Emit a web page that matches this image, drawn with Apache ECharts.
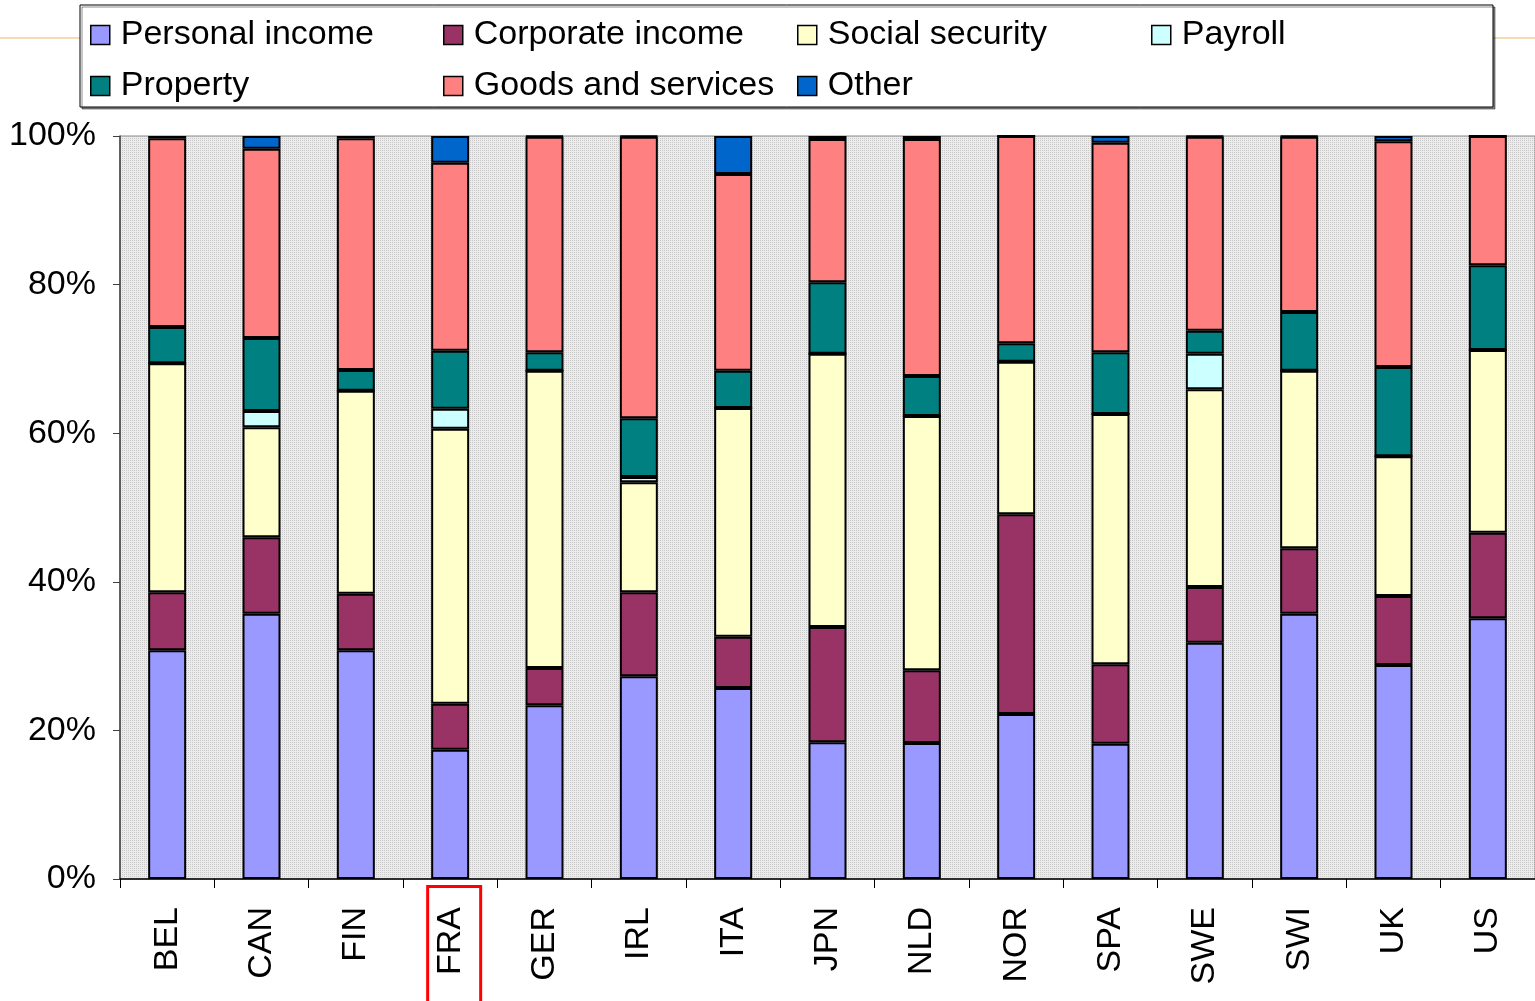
<!DOCTYPE html>
<html>
<head>
<meta charset="utf-8">
<script src="https://cdn.jsdelivr.net/npm/echarts@6/dist/echarts.min.js"></script>
<style>
html,body{margin:0;padding:0;background:#fff;}
#chart{width:1535px;height:1001px;}
</style>
</head>
<body>
<div id="chart"></div>
<script>
var countries = ['BEL','CAN','FIN','FRA','GER','IRL','ITA','JPN','NLD','NOR','SPA','SWE','SWI','UK','US'];
var yTicks = ['0%','20%','40%','60%','80%','100%'];
var personalIncome  = [30.8,35.7,30.8,17.4,23.4,27.3,25.7,18.4,18.3,22.2,18.2,31.8,35.7,28.8,35.1];
var corporateIncome = [7.8,10.3,7.6,6.2,5.0,11.3,6.9,15.5,9.8,26.9,10.7,7.5,8.8,9.3,11.5];
var socialSecurity  = [30.8,14.8,27.3,37.0,40.0,14.8,30.8,36.8,34.2,20.5,33.7,26.6,23.9,18.8,24.6];
var payroll         = [0,2.2,0,2.7,0,0.7,0,0,0,0,0,4.8,0,0,0];
var property        = [4.9,9.8,2.8,7.8,2.5,7.9,5.0,9.6,5.4,2.5,8.3,3.1,7.9,12.0,11.4];
var goodsServices   = [25.4,25.5,31.2,25.3,29.0,37.9,26.5,19.3,31.9,27.9,28.2,26.1,23.6,30.4,17.4];
var other           = [0.3,1.7,0.3,3.6,0.1,0.1,5.1,0.4,0.4,0,0.9,0.1,0.1,0.7,0];

var seriesDefs = [
  ['Personal income', personalIncome, '#9999ff'],
  ['Corporate income', corporateIncome, '#993366'],
  ['Social security', socialSecurity, '#ffffcc'],
  ['Payroll', payroll, '#ccffff'],
  ['Property', property, '#008080'],
  ['Goods and services', goodsServices, '#ff8080'],
  ['Other', other, '#0066cc']
];
var legendPos = [
  [90,18],[443,18],[797,18],[1151,18],
  [90,69],[443,69],[797,69]
];

var FONT = '"Liberation Sans", Arial, sans-serif';

var chart = echarts.init(document.getElementById('chart'), null, {renderer:'canvas'});

var series = seriesDefs.map(function(d){
  return {
    name: d[0], type: 'bar', stack: 'total', data: d[1],
    barWidth: 38,
    itemStyle: {color: d[2], borderColor: '#000', borderWidth: 2},
    emphasis: {disabled: true}
  };
});

var legends = seriesDefs.map(function(d, i){
  return {
    data: [d[0]], left: legendPos[i][0], top: legendPos[i][1], padding: 0,
    itemWidth: 19, itemHeight: 19, selectedMode: false,
    icon: 'rect',
    itemStyle: {borderColor: '#000', borderWidth: 1.5},
    textStyle: {fontSize: 34, fontFamily: FONT, color: '#000', padding: [0,0,0,6]}
  };
});

function baseGraphics(){
  return [
    {type: 'line', z: -10, shape: {x1: 0, y1: 38, x2: 1535, y2: 38},
     style: {stroke: '#e8b868', lineWidth: 1.2}},
    {type: 'rect', z: -5, shape: {x: 80, y: 5, width: 1413, height: 102},
     style: {fill: '#fff', stroke: '#000', lineWidth: 1, shadowColor: 'rgba(0,0,0,0.45)', shadowOffsetX: 2, shadowOffsetY: 2, shadowBlur: 0}}
  ];
}

// Pattern background for plot area
var pc = document.createElement('canvas'); pc.width = 4; pc.height = 4;
var pctx = pc.getContext('2d');
pctx.fillStyle = '#ececec'; pctx.fillRect(0,0,4,4);
pctx.fillStyle = '#c8c8c8';
pctx.fillRect(0,0,1,1); pctx.fillRect(2,2,1,1); pctx.fillRect(2,0,1,1); pctx.fillRect(0,2,1,1);

var option = {
  animation: false,
  backgroundColor: '#fff',
  legend: legends,
  grid: {left: 120, right: 0, top: 136, bottom: 122, show: true,
         backgroundColor: {image: pc, repeat: 'repeat'}, borderColor: '#8c8c8c', borderWidth: 1},
  xAxis: {
    type: 'category', data: countries,
    axisLine: {lineStyle: {color: '#000', width: 1.5}},
    axisTick: {show: true, length: 9, lineStyle: {color: '#000', width: 1}},
    axisLabel: {rotate: 90, fontSize: 34, fontFamily: FONT, color: '#000', margin: 28}
  },
  yAxis: {
    type: 'value', min: 0, max: 100, interval: 20,
    axisLine: {show: true, lineStyle: {color: '#404040', width: 1.5}},
    axisTick: {show: true, length: 7, lineStyle: {color: '#404040'}},
    splitLine: {show: false},
    axisLabel: {fontSize: 34, fontFamily: FONT, color: '#000', margin: 24, padding: [4,0,0,0],
      formatter: function(v){ return yTicks[Math.round(v/20)]; }}
  },
  series: series,
  graphic: baseGraphics()
};
chart.setOption(option);

// Red highlight box around FRA label
var fx = chart.convertToPixel({xAxisIndex: 0}, 'FRA');
var axisY = chart.convertToPixel({yAxisIndex: 0}, 0);
var g = baseGraphics();
g.push({type: 'rect', z: 100, shape: {x: fx - 22.5, y: axisY + 7.5, width: 53, height: 130},
   style: {fill: 'none', stroke: '#ff0000', lineWidth: 3}});
chart.setOption({graphic: g});
</script>
</body>
</html>
